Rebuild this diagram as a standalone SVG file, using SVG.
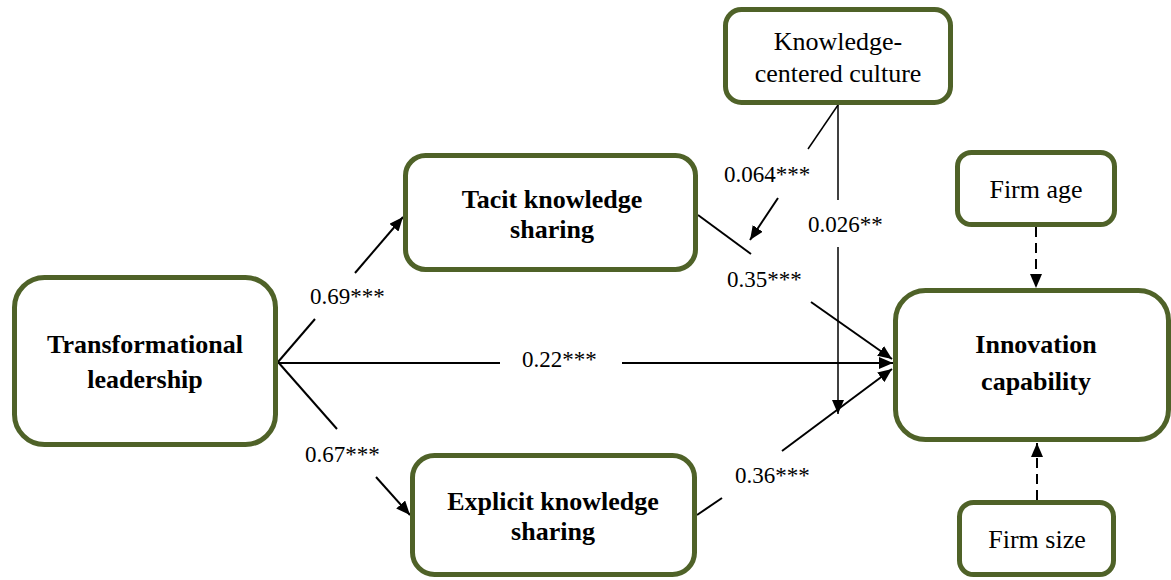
<svg xmlns="http://www.w3.org/2000/svg" width="1171" height="580" viewBox="0 0 1171 580">
<style>
.box{fill:#fff;stroke:#4f6228;stroke-width:5}
.bl{font-family:"Liberation Serif","Times New Roman",serif;font-size:26px;font-weight:bold;text-anchor:middle;fill:#000}
.rl{font-family:"Liberation Serif","Times New Roman",serif;font-size:26px;text-anchor:middle;fill:#000}
.cl{font-family:"Liberation Serif","Times New Roman",serif;font-size:23px;fill:#000}
.ln{fill:none;stroke:#000;stroke-width:2}
.thin{fill:none;stroke:#000;stroke-width:1.5}
.dash{fill:none;stroke:#000;stroke-width:2;stroke-dasharray:10 6}
</style>
<defs>
<marker id="ah" viewBox="0 0 14 12" refX="14" refY="6" markerWidth="14" markerHeight="12" markerUnits="userSpaceOnUse" orient="auto">
<path d="M0,0 L14,6 L0,12 z" fill="#000"/>
</marker>
</defs>
<rect width="1171" height="580" fill="#fff"/>
<g id="connectors">
<line class="ln" x1="278" y1="362" x2="315" y2="319"/>
<line class="ln" x1="355" y1="273" x2="403" y2="217" marker-end="url(#ah)"/>
<line class="ln" x1="278" y1="362" x2="337" y2="429"/>
<line class="ln" x1="376" y1="477" x2="410" y2="515" marker-end="url(#ah)"/>
<line class="ln" x1="278" y1="363" x2="500" y2="363"/>
<line class="ln" x1="622" y1="363" x2="893" y2="363" marker-end="url(#ah)"/>
<line class="ln" x1="698" y1="215" x2="751" y2="254"/>
<line class="ln" x1="811" y1="302" x2="892" y2="359" marker-end="url(#ah)"/>
<line class="ln" x1="697" y1="515" x2="722" y2="498"/>
<line class="ln" x1="782" y1="451" x2="892" y2="369" marker-end="url(#ah)"/>
<line class="thin" x1="838" y1="105" x2="808" y2="149"/>
<line class="ln" x1="778" y1="198" x2="750" y2="240" marker-end="url(#ah)"/>
<line class="thin" x1="838" y1="105" x2="838" y2="200"/>
<line class="thin" x1="838" y1="247" x2="838" y2="414" marker-end="url(#ah)"/>
<line class="dash" x1="1036" y1="227" x2="1036" y2="288" marker-end="url(#ah)"/>
<line class="dash" x1="1037" y1="500" x2="1037" y2="443" marker-end="url(#ah)"/>
<text class="cl" x="310" y="304">0.69***</text>
<text class="cl" x="522" y="367">0.22***</text>
<text class="cl" x="305" y="462">0.67***</text>
<text class="cl" x="735" y="483">0.36***</text>
<text class="cl" x="727" y="287">0.35***</text>
<text class="cl" x="724" y="182">0.064***</text>
<text class="cl" x="808" y="232">0.026**</text>
</g>
<g id="transformational-leadership">
<rect class="box" x="14.5" y="277.5" width="261" height="167" rx="30"/>
<text class="bl" x="145" y="353">Transformational</text>
<text class="bl" x="145" y="388">leadership</text>
</g>
<g id="tacit-knowledge-sharing">
<rect class="box" x="405.5" y="155.5" width="290" height="114" rx="20"/>
<text class="bl" x="552" y="208">Tacit knowledge</text>
<text class="bl" x="552" y="238">sharing</text>
</g>
<g id="explicit-knowledge-sharing">
<rect class="box" x="412.5" y="455.5" width="282" height="119" rx="22"/>
<text class="bl" x="553" y="510">Explicit knowledge</text>
<text class="bl" x="553" y="540">sharing</text>
</g>
<g id="knowledge-centered-culture">
<rect class="box" x="725.5" y="9.5" width="225" height="93" rx="16"/>
<text class="rl" x="838" y="50">Knowledge-</text>
<text class="rl" x="838" y="82">centered culture</text>
</g>
<g id="firm-age">
<rect class="box" x="957.5" y="152.5" width="157" height="72" rx="14"/>
<text class="rl" x="1036" y="198">Firm age</text>
</g>
<g id="innovation-capability">
<rect class="box" x="895.5" y="290.5" width="273" height="149" rx="30"/>
<text class="bl" x="1036" y="353">Innovation</text>
<text class="bl" x="1036" y="390">capability</text>
</g>
<g id="firm-size">
<rect class="box" x="959.5" y="502.5" width="154" height="72" rx="14"/>
<text class="rl" x="1037" y="548">Firm size</text>
</g>
</svg>
